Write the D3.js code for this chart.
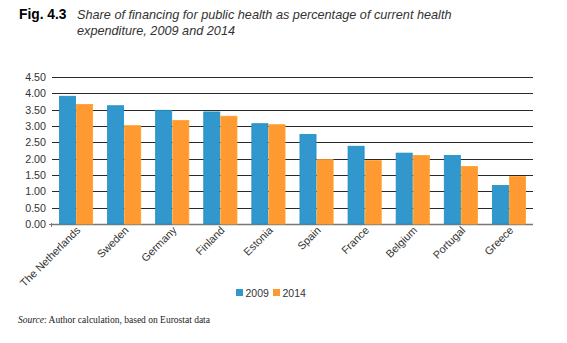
<!DOCTYPE html>
<html>
<head>
<meta charset="utf-8">
<script src="https://cdn.jsdelivr.net/npm/d3@7"></script>
<style>
  body { margin: 0; background: #fff; }
  svg { display: block; }
  .tick text { font-family: "Liberation Sans", Arial, sans-serif; fill: #333; }
</style>
</head>
<body>
<script>
// shares per country, 2009 and 2014
var countries = ["The Netherlands", "Sweden", "Germany", "Finland", "Estonia",
                 "Spain", "France", "Belgium", "Portugal", "Greece"];
var values2009 = [3.91, 3.62, 3.48, 3.43, 3.07, 2.74, 2.38, 2.17, 2.10, 1.18];
var values2014 = [3.66, 3.01, 3.17, 3.30, 3.04, 1.97, 1.94, 2.10, 1.76, 1.45];
var years = ["2009", "2014"];
var yTicks = [0, 0.5, 1, 1.5, 2, 2.5, 3, 3.5, 4, 4.5];

var colors = { "2009": "#3197cc", "2014": "#ff9a33" };
var strokes = { "2009": "#1f8fc4", "2014": "#ffa126" };

var W = 567, H = 343;
var margin = { top: 77, right: 34, bottom: 119, left: 52 };
var width = W - margin.left - margin.right,
    height = H - margin.top - margin.bottom;

var svg = d3.select("body").append("svg")
    .attr("width", W)
    .attr("height", H);

// title
var title = svg.append("text")
    .attr("x", 19).attr("y", 19)
    .style("font-family", "Liberation Sans, Arial, sans-serif")
    .style("font-size", "12.7px");
title.append("tspan")
    .style("font-weight", "bold")
    .style("font-size", "13.8px")
    .text("Fig. 4.3");
title.append("tspan")
    .attr("x", 77)
    .style("font-style", "italic")
    .style("fill", "#333")
    .text("Share of financing for public health as percentage of current health");
svg.append("text")
    .attr("x", 77).attr("y", 35)
    .style("font-family", "Liberation Sans, Arial, sans-serif")
    .style("font-size", "12.7px")
    .style("font-style", "italic")
    .style("fill", "#333")
    .text("expenditure, 2009 and 2014");

var g = svg.append("g")
    .attr("transform", "translate(" + margin.left + "," + margin.top + ")");

var x0 = d3.scaleBand()
    .domain(countries)
    .range([0, width])
    .paddingInner(0.31)
    .paddingOuter(0.155);

var x1 = d3.scaleBand()
    .domain(years)
    .range([0, x0.bandwidth()])
    .paddingInner(0.06);

var y = d3.scaleLinear()
    .domain([0, 4.5])
    .range([height, 0]);

// gridlines
g.append("g")
    .selectAll("line")
    .data(yTicks)
    .enter().append("line")
    .attr("x1", 0)
    .attr("x2", width)
    .attr("y1", function (d) { return Math.round(y(d)) + 0.5; })
    .attr("y2", function (d) { return Math.round(y(d)) + 0.5; })
    .attr("stroke", function (d) { return d === 0 ? "#777" : "#2a2a2a"; })
    .attr("stroke-width", function (d) { return d === 0 ? 1.6 : 1.2; });

// y axis labels
var yAxis = d3.axisLeft(y)
    .tickValues(yTicks)
    .tickFormat(d3.format(".2f"))
    .tickSize(0)
    .tickPadding(6);

var gy = g.append("g").call(yAxis);
gy.select(".domain").remove();
gy.selectAll(".tick text").style("font-size", "10.7px");

// small tick at zero
g.append("line")
    .attr("x1", -3).attr("x2", 0)
    .attr("y1", y(0) + 0.5).attr("y2", y(0) + 0.5)
    .attr("stroke", "#777");
g.append("line")
    .attr("x1", -0.5).attr("x2", -0.5)
    .attr("y1", y(0) - 1).attr("y2", y(0) + 3)
    .attr("stroke", "#777");

// bars
var rows = countries.map(function (c, i) {
    return { country: c, vals: [
        { year: "2009", value: values2009[i] },
        { year: "2014", value: values2014[i] }
    ] };
});

var groups = g.selectAll(".group")
    .data(rows)
    .enter().append("g")
    .attr("class", "group")
    .attr("transform", function (d) { return "translate(" + x0(d.country) + ",0)"; });

groups.selectAll("rect")
    .data(function (d) { return d.vals; })
    .enter().append("rect")
    .attr("x", function (d) { return x1(d.year); })
    .attr("y", function (d) { return y(d.value); })
    .attr("width", x1.bandwidth())
    .attr("height", function (d) { return y(0) - y(d.value); })
    .attr("fill", function (d) { return colors[d.year]; })
    .attr("stroke", function (d) { return strokes[d.year]; })
    .attr("stroke-width", 0.8);

// x labels, rotated
var xAxis = d3.axisBottom(x0).tickSize(0).tickPadding(0);
var gx = g.append("g")
    .attr("transform", "translate(0," + height + ")")
    .call(xAxis);
gx.select(".domain").remove();
gx.selectAll(".tick text")
    .style("font-size", "10.8px")
    .style("text-anchor", "end")
    .attr("dy", "0")
    .attr("transform", "translate(5,7) rotate(-45)");

// legend
var legend = svg.append("g")
    .attr("transform", "translate(236,289)");
years.forEach(function (yr, i) {
    var lg = legend.append("g").attr("transform", "translate(" + (i * 37) + ",0)");
    lg.append("rect")
        .attr("width", 7).attr("height", 7)
        .attr("fill", colors[yr]);
    lg.append("text")
        .attr("x", 9.5).attr("y", 7.5)
        .style("font-family", "Liberation Sans, Arial, sans-serif")
        .style("font-size", "10.5px")
        .style("fill", "#333")
        .text(yr);
});

// source note
var src = svg.append("text")
    .attr("x", 18).attr("y", 323)
    .style("font-family", "Liberation Serif, Times New Roman, serif")
    .style("font-size", "9.5px")
    .style("fill", "#222");
src.append("tspan").style("font-style", "italic").text("Source");
src.append("tspan").text(": Author calculation, based on Eurostat data");
</script>
</body>
</html>
